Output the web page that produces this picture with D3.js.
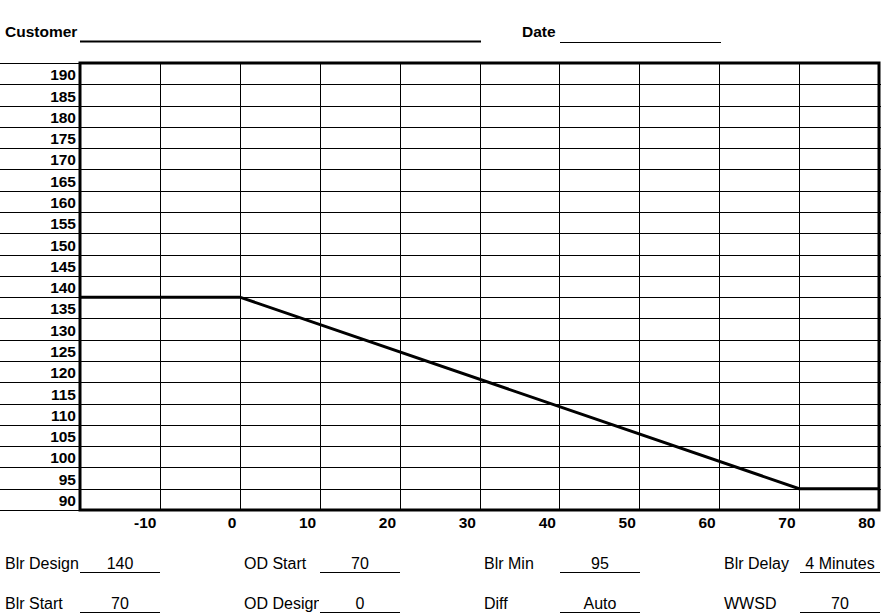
<!DOCTYPE html>
<html>
<head>
<meta charset="utf-8">
<script src="https://cdn.jsdelivr.net/npm/d3@7/dist/d3.min.js"></script>
<style>
  html, body { margin: 0; padding: 0; background: #fff; }
  svg { display: block; }
  text { font-family: Arial, "Liberation Sans", sans-serif; fill: #000; }
</style>
</head>
<body>
<svg id="chart" width="881" height="613"></svg>
<script>
// ---- data ----
const yTicks = [190, 185, 180, 175, 170, 165, 160, 155, 150, 145, 140, 135, 130, 125, 120, 115, 110, 105, 100, 95, 90];
const xTicks = [-10, 0, 10, 20, 30, 40, 50, 60, 70, 80];
const outdoorTemps = [-20, 0, 70, 80];
const boilerTemps = [140, 140, 95, 95];
const headerLabels = ["Customer", "Date"];
const fieldLabels = ["Blr Design", "OD Start", "Blr Min", "Blr Delay", "Blr Start", "OD Design", "Diff", "WWSD"];
const fieldValues = ["140", "70", "95", "4 Minutes", "70", "0", "Auto", "70"];

// ---- layout ----
const W = 881, H = 613;
const pLeft = 80, pRight = 879, pTop = 63, pBottom = 510;
const boldSize = 15.5, regSize = 16;
const svg = d3.select("#chart");

const x = d3.scaleLinear().domain([-20, 80]).range([pLeft, pRight]);
const y = d3.scaleLinear().domain([90, 195]).range([pBottom, pTop]);

// horizontal row lines (full width like spreadsheet cells)
const rowLines = d3.range(90, 196, 5);
svg.append("g").selectAll("line").data(rowLines.filter(v => v !== 90 && v !== 195)).join("line")
  .attr("x1", 0).attr("x2", W)
  .attr("y1", d => Math.round(y(d)) + 0.5).attr("y2", d => Math.round(y(d)) + 0.5)
  .attr("stroke", "#000").attr("stroke-width", 1);

// thin part of top/bottom border left of plot
[195, 90].forEach(v => {
  svg.append("line").attr("x1", 0).attr("x2", pLeft)
    .attr("y1", Math.round(y(v)) + 0.5).attr("y2", Math.round(y(v)) + 0.5)
    .attr("stroke", "#000").attr("stroke-width", 1);
});

// vertical grid
svg.append("g").selectAll("line").data(xTicks.filter(v => v !== 80)).join("line")
  .attr("x1", d => Math.round(x(d)) + 0.5).attr("x2", d => Math.round(x(d)) + 0.5)
  .attr("y1", pTop).attr("y2", pBottom)
  .attr("stroke", "#000").attr("stroke-width", 1);

// thick plot border
svg.append("rect")
  .attr("x", pLeft).attr("y", pTop)
  .attr("width", pRight - pLeft).attr("height", pBottom - pTop)
  .attr("fill", "none").attr("stroke", "#000").attr("stroke-width", 3);

// y labels via axis
const yAxis = svg.append("g").attr("transform", `translate(${pLeft},0)`)
  .call(d3.axisLeft(y).tickValues(yTicks).tickSize(0).tickFormat(d => String(d)));
yAxis.select(".domain").remove();
yAxis.selectAll("text")
  .attr("x", -4).attr("dy", -4.5)
  .attr("font-size", boldSize).attr("font-weight", "bold")
  .attr("font-family", "Arial, 'Liberation Sans', sans-serif")
  .attr("fill", "#000");

// x labels via axis
const xAxis = svg.append("g").attr("transform", `translate(0,${pBottom})`)
  .call(d3.axisBottom(x).tickValues(xTicks).tickSize(0).tickFormat(d => String(d)));
xAxis.select(".domain").remove();
xAxis.selectAll("text")
  .attr("y", 18).attr("dy", 0).attr("x", -4)
  .attr("text-anchor", "end")
  .attr("font-size", boldSize).attr("font-weight", "bold")
  .attr("font-family", "Arial, 'Liberation Sans', sans-serif")
  .attr("fill", "#000");

// data line
const pts = outdoorTemps.map((t, i) => [t, boilerTemps[i]]);
svg.append("path")
  .datum(pts)
  .attr("d", d3.line().x(d => x(d[0])).y(d => y(d[1])))
  .attr("fill", "none").attr("stroke", "#000").attr("stroke-width", 3)
  .attr("stroke-linejoin", "miter");

// header
svg.append("text").attr("x", 5).attr("y", 37)
  .attr("font-size", boldSize).attr("font-weight", "bold").text(headerLabels[0]);
svg.append("line").attr("x1", 80).attr("x2", 481).attr("y1", 41.5).attr("y2", 41.5)
  .attr("stroke", "#000").attr("stroke-width", 2);
svg.append("text").attr("x", 522).attr("y", 37)
  .attr("font-size", boldSize).attr("font-weight", "bold").text(headerLabels[1]);
svg.append("line").attr("x1", 560).attr("x2", 721).attr("y1", 42.5).attr("y2", 42.5)
  .attr("stroke", "#000").attr("stroke-width", 1);

// bottom fields
const colX = [5, 244, 484, 724];
const underlineStart = [80, 320, 560, 800];
const rowY = [568.5, 609];
const lineY = [572.5, 612.5];
const defs = svg.append("defs");
fieldLabels.forEach((lab, i) => {
  const col = i % 4, row = Math.floor(i / 4);
  const lx = colX[col];
  const uStart = underlineStart[col];
  const clipId = "clip" + i;
  defs.append("clipPath").attr("id", clipId).append("rect")
    .attr("x", lx - 5).attr("y", rowY[row] - 20).attr("width", uStart - lx + 4).attr("height", 30);
  svg.append("text").attr("x", lx).attr("y", rowY[row])
    .attr("font-size", regSize).attr("clip-path", `url(#${clipId})`).text(lab);
  svg.append("line").attr("x1", uStart).attr("x2", uStart + 80)
    .attr("y1", lineY[row]).attr("y2", lineY[row])
    .attr("stroke", "#000").attr("stroke-width", 1);
  svg.append("text").attr("x", uStart + 40).attr("y", rowY[row])
    .attr("font-size", regSize).attr("text-anchor", "middle").text(fieldValues[i]);
});
</script>
</body>
</html>
